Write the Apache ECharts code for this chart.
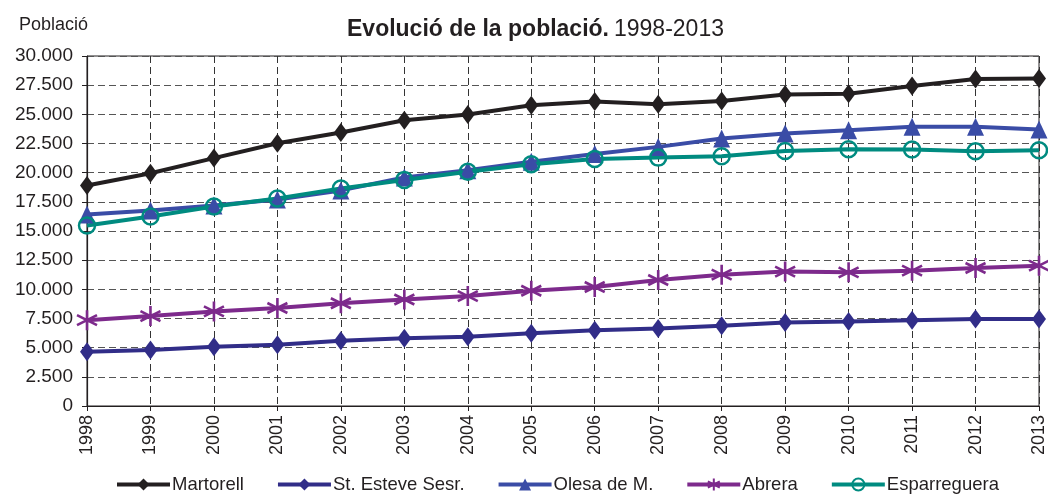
<!DOCTYPE html>
<html>
<head>
<meta charset="utf-8">
<script src="https://cdn.jsdelivr.net/npm/echarts@6/dist/echarts.min.js"></script>
<style>
  html, body { margin: 0; padding: 0; background: #fff; }
  #main { width: 1048px; height: 499px; }
</style>
</head>
<body>
<div id="main"></div>
<script>
// anys
var years = ['1998', '1999', '2000', '2001', '2002', '2003', '2004', '2005',
  '2006', '2007', '2008', '2009', '2010', '2011', '2012', '2013'];

// població per municipi (llegit del gràfic)
var martorell = [18900, 19950, 21250, 22520, 23450, 24500, 24980, 25780,
  26100, 25870, 26150, 26700, 26760, 27420, 28020, 28080];
var stEsteve = [4640, 4810, 5070, 5250, 5590, 5800, 5930, 6230,
  6500, 6650, 6880, 7160, 7250, 7360, 7450, 7450];
var olesa = [16420, 16760, 17190, 17700, 18480, 19580, 20200, 20940,
  21600, 22210, 22920, 23350, 23640, 23930, 23930, 23700];
var abrera = [7360, 7710, 8110, 8400, 8810, 9130, 9420, 9880,
  10200, 10800, 11260, 11520, 11460, 11600, 11830, 12030];
var esparreguera = [15470, 16250, 17100, 17790, 18640, 19380, 20080, 20720,
  21170, 21290, 21400, 21860, 22000, 21980, 21830, 21920];

var yTicks = { min: 0, max: 30000, interval: 2500 };

var chart = echarts.init(document.getElementById('main'));

var asterisk = 'path://M0,-10L0,10M-8.7,-5L8.7,5M-8.7,5L8.7,-5';

function fmt(v) {
  return String(v).replace(/\B(?=(\d{3})+(?!\d))/g, '.');
}

function serie(name, data, color, symbol, size, hollow) {
  var item = { color: color };
  if (hollow) item = { color: 'rgba(255,255,255,0)', borderColor: color, borderWidth: 2.5 };
  if (symbol === asterisk) item = { color: color, borderColor: color, borderWidth: 2.6 };
  return {
    name: name,
    type: 'line',
    data: data,
    symbol: symbol,
    symbolSize: size,
    showAllSymbol: true,
    lineStyle: { color: color, width: 4 },
    itemStyle: item,
    emphasis: { disabled: true },
    animation: false
  };
}

var option = {
  backgroundColor: '#fff',
  textStyle: { fontFamily: 'Liberation Sans, Arial, sans-serif' },
  title: [{
    text: '{b|Evolució de la població.} {n|1998-2013}',
    left: 342,
    top: 13,
    textStyle: {
      rich: {
        b: { fontSize: 23, fontWeight: 'bold', color: '#231f20', fontFamily: 'Liberation Sans' },
        n: { fontSize: 23, fontWeight: 'normal', color: '#231f20', fontFamily: 'Liberation Sans' }
      }
    }
  }, {
    text: 'Població',
    left: 14,
    top: 11,
    textStyle: { fontSize: 18, fontWeight: 'normal', color: '#231f20', fontFamily: 'Liberation Sans' }
  }],
  legend: {
    bottom: 0,
    left: 110,
    itemWidth: 53,
    itemHeight: 15,
    itemGap: 32,
    lineStyle: { width: 4 },
    textStyle: { fontSize: 18.5, color: '#231f20', padding: [0, 0, 0, -3] },
    data: ['Martorell', 'St. Esteve Sesr.', 'Olesa de M.', 'Abrera', 'Esparreguera']
  },
  grid: {
    left: 87,
    right: 7,
    top: 56,
    bottom: 93,
    show: true,
    borderColor: '#231f20',
    borderWidth: 1
  },
  xAxis: {
    type: 'category',
    data: years,
    boundaryGap: false,
    axisLine: { lineStyle: { color: '#231f20', width: 1.2 } },
    axisTick: { length: 5, lineStyle: { color: '#231f20' } },
    axisLabel: { rotate: 90, fontSize: 18, color: '#231f20', margin: 9 },
    splitLine: { show: true, lineStyle: { type: [7, 4], color: '#333', width: 1 } }
  },
  yAxis: {
    type: 'value',
    min: yTicks.min,
    max: yTicks.max,
    interval: yTicks.interval,
    axisLine: { show: true, lineStyle: { color: '#231f20', width: 1.2 } },
    axisTick: { show: true, length: 5, lineStyle: { color: '#231f20' } },
    axisLabel: { fontSize: 19, color: '#231f20', margin: 14, formatter: fmt },
    splitLine: { show: true, lineStyle: { type: [7, 4], color: '#555', width: 1 } }
  },
  series: [
    serie('Martorell', martorell, '#231f20', 'diamond', [14, 19]),
    serie('St. Esteve Sesr.', stEsteve, '#312d88', 'diamond', [14, 19]),
    serie('Olesa de M.', olesa, '#3a4ca6', 'triangle', [17, 18]),
    serie('Abrera', abrera, '#7d2a8c', asterisk, 20),
    serie('Esparreguera', esparreguera, '#008b80', 'circle', 16, true)
  ]
};

chart.setOption(option);
</script>
</body>
</html>
